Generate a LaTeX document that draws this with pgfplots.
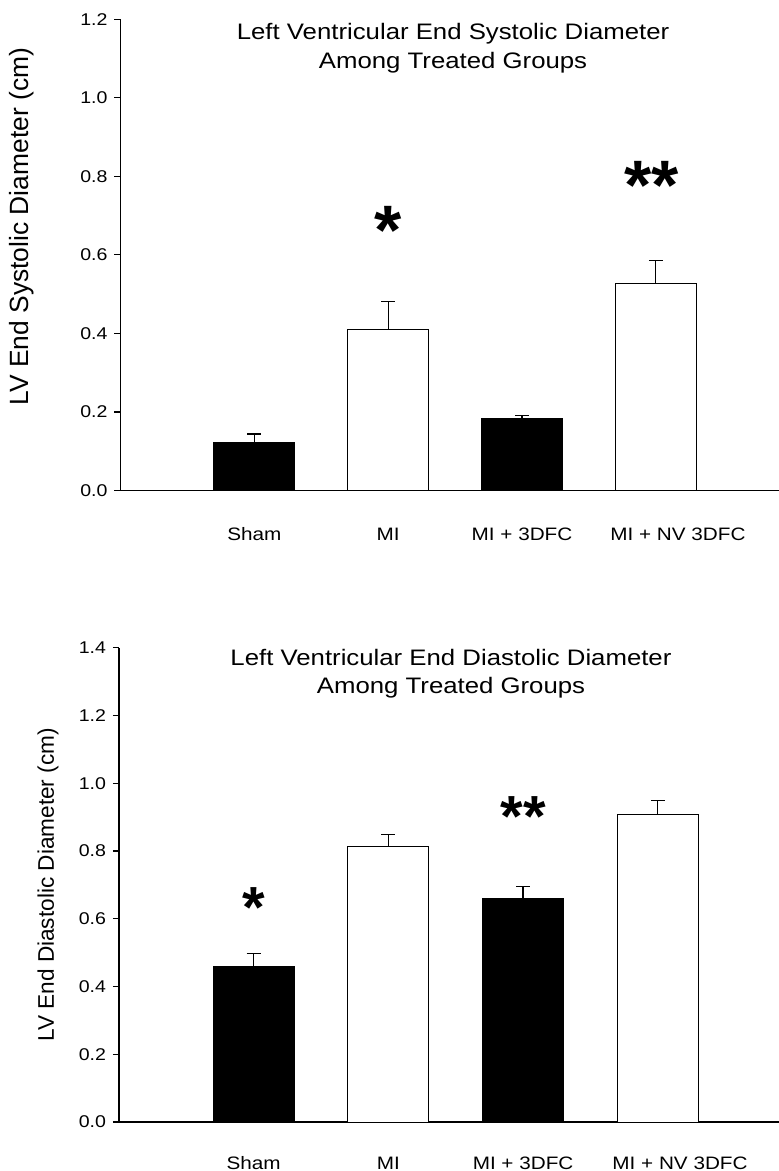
\documentclass[border=0pt]{standalone}
\usepackage{fontspec}
\setmainfont{Liberation Sans}
\newfontfamily\wide[FakeStretch=1.15]{Liberation Sans}
\usepackage{pgfplots}
\usepackage{pgfplotstable}
\pgfplotsset{compat=1.18}

% systolic diameter (cm): x, mean, SEM
\pgfplotstableread{
x y e
1 0.122 0.022
3 0.183 0.008
}\sysblack
\pgfplotstableread{
x y e
2 0.410 0.071
4 0.526 0.060
}\syswhite
% diastolic diameter (cm)
\pgfplotstableread{
x y e
1 0.458 0.039
3 0.660 0.035
}\diablack
\pgfplotstableread{
x y e
2 0.814 0.034
4 0.907 0.042
}\diawhite

\tikzset{
  blackbar/.style={fill=black, draw=black, line width=0.5pt},
  whitebar/.style={fill=white, draw=black, line width=0.5pt},
  ttl/.style={font=\wide\fontsize{11.2}{13}\selectfont, anchor=base},
  star/.style={font=\bfseries\fontsize{#1}{#1}\selectfont, anchor=north, inner sep=0pt},
}
\pgfplotsset{
  panel/.style={
    scale only axis,
    clip=false,
    axis x line=bottom, axis y line=left,
    axis line style={-, line width=0.6pt},
    xmin=0, ymin=0,
    ybar, bar shift=0pt, bar width=40.5pt,
    xtick={1,2,3,4.165},
    xticklabels={Sham, MI, MI + 3DFC, MI + NV 3DFC},
    x tick style={draw=none},
    xticklabel style={font=\wide\fontsize{9}{10}\selectfont, anchor=base},
    ytick distance=0.2,
    y tick style={black, line width=0.6pt},
    tick align=outside, major tick length=3pt,
    yticklabel style={font=\wide\fontsize{8.5}{10}\selectfont,
      /pgf/number format/fixed, /pgf/number format/fixed zerofill,
      /pgf/number format/precision=1, /pgf/number format/assume math mode=true},
    error bars/y dir=plus, error bars/y explicit,
    error bars/error bar style={line width=0.6pt, black},
    error bars/error mark options={rotate=90, black, line width=0.6pt, mark size=3.5pt},
  },
}

\begin{document}
\begin{tikzpicture}
\useasboundingbox (-60.25pt,-340.25pt) rectangle (329.25pt,245.25pt);

\begin{axis}[panel,
  at={(0pt,0pt)}, anchor=south west,
  width=329.25pt, height=235.6pt,
  xmax=4.92, ymax=1.2,
  xticklabel style={yshift=-22.25pt},
  ylabel={LV End Systolic Diameter (cm)},
  ylabel style={font=\fontsize{13.2}{15}\selectfont, at={(axis description cs:-0.1496,0.56)}, anchor=center},
]
  \addplot[blackbar] table[x=x, y=y, y error=e] {\sysblack};
  \addplot[whitebar] table[x=x, y=y, y error=e] {\syswhite};
  \node[ttl] at (axis description cs:0.505,0.9576) {Left Ventricular End Systolic Diameter};
  \node[ttl] at (axis description cs:0.505,0.896) {Among Treated Groups};
  \node[star=35] at (axis cs:2,0.724) {*};
  \node[star=35] at (axis cs:3.97,0.839) {**};
\end{axis}

\begin{axis}[panel,
  at={(-0.75pt,-315.75pt)}, anchor=south west,
  width=330pt, height=237.15pt,
  xmax=4.9, ymax=1.4,
  xticklabel style={yshift=-20.5pt},
  ylabel={LV End Diastolic Diameter (cm)},
  ylabel style={font=\fontsize{11.3}{13}\selectfont, at={(axis description cs:-0.1076,0.5)}, anchor=center},
]
  \addplot[blackbar] table[x=x, y=y, y error=e] {\diablack};
  \addplot[whitebar] table[x=x, y=y, y error=e] {\diawhite};
  \node[ttl] at (axis description cs:0.503,0.963) {Left Ventricular End Diastolic Diameter};
  \node[ttl] at (axis description cs:0.503,0.903) {Among Treated Groups};
  \node[star=29] at (axis cs:1,0.694) {*};
  \node[star=29] at (axis cs:3,0.962) {**};
\end{axis}
\end{tikzpicture}
\end{document}
